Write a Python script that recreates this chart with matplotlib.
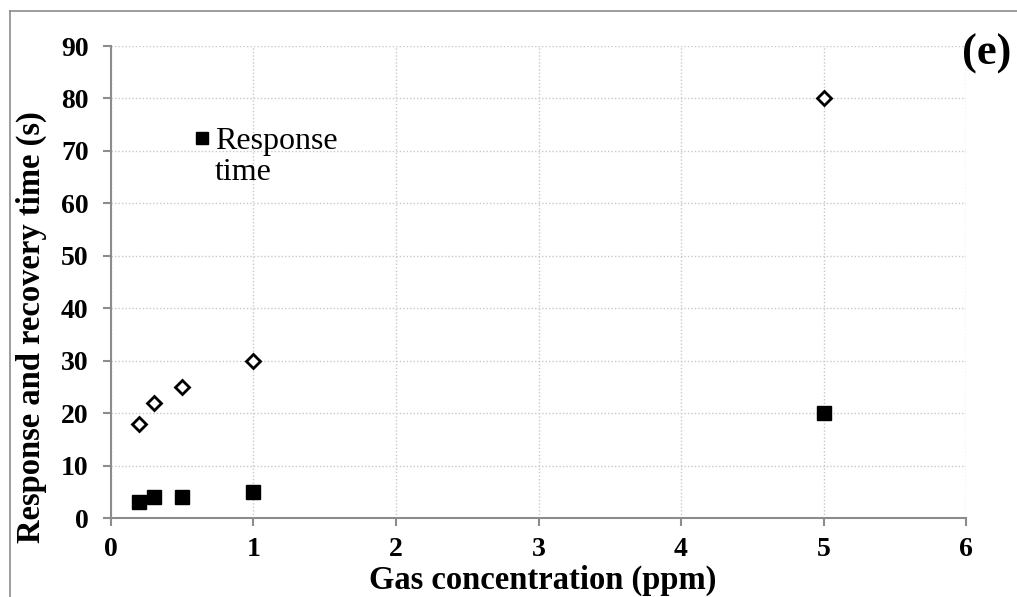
import matplotlib
matplotlib.use('Agg')
import matplotlib.pyplot as plt
from matplotlib.lines import Line2D

conc = [0.2, 0.3, 0.5, 1, 5]
response = [3, 4, 4, 5, 20]
recovery = [18, 22, 25, 30, 80]

plt.rcParams['font.family'] = ['Liberation Serif', 'DejaVu Serif']

fig = plt.figure(figsize=(10.17, 5.97), dpi=100)
ax = fig.add_axes([0.1091, 0.1323, 0.8408, 0.7906])

ax.plot(conc, response, 's', color='black', ms=9.5, label='Response\ntime', zorder=3)
ax.plot(conc, recovery, 'D', mfc='white', mec='black', mew=2, ms=7.5, zorder=3)

ax.set_xlim(0, 6)
ax.set_ylim(0, 90)
ax.set_xticks(range(0, 7))
ax.set_yticks(range(0, 91, 10))
ax.grid(True, color='#c8c8c8', linestyle=(0, (1, 1.5)), linewidth=1)
ax.set_axisbelow(True)

for s in ['top', 'right']:
    ax.spines[s].set_visible(False)
for s in ['left', 'bottom']:
    ax.spines[s].set_color('#8c8c8c')
    ax.spines[s].set_linewidth(1.5)
ax.tick_params(direction='out', length=6, width=1.5, color='#8c8c8c',
               labelsize=20, pad=10)
ax.tick_params(axis='x', pad=8)
for lab in ax.get_xticklabels() + ax.get_yticklabels():
    lab.set_fontweight('bold')

ax.set_xlabel('Gas concentration (ppm)', fontsize=23.5, fontweight='bold')
ax.xaxis.set_label_coords(0.505, -0.1)
ax.set_ylabel('Response and recovery time (s)', fontsize=23.5, fontweight='bold')
ax.yaxis.set_label_coords(-0.075, 0.405)

leg = ax.legend(loc='upper left', bbox_to_anchor=(0.0994, 0.828), frameon=False,
                fontsize=23, handlelength=0.4, handletextpad=0.2, markerscale=0.9,
                borderpad=0, borderaxespad=0, labelspacing=0)
for col in leg._legend_handle_box.get_children():
    for item in col.get_children():
        item.align = 'top'
for t in leg.get_texts():
    t.set_linespacing(1.1)

fig.text(0.9705, 0.91, '(e)', fontsize=32, fontweight='bold', ha='center', va='center')

# outer frame (left and top edges)
fig.add_artist(Line2D([0.0098, 0.0098], [0.0, 0.9816], color='#8c8c8c', lw=1.2))
fig.add_artist(Line2D([0.0098, 1.0], [0.9816, 0.9816], color='#8c8c8c', lw=1.2))

fig.savefig('out.png', dpi=100)
